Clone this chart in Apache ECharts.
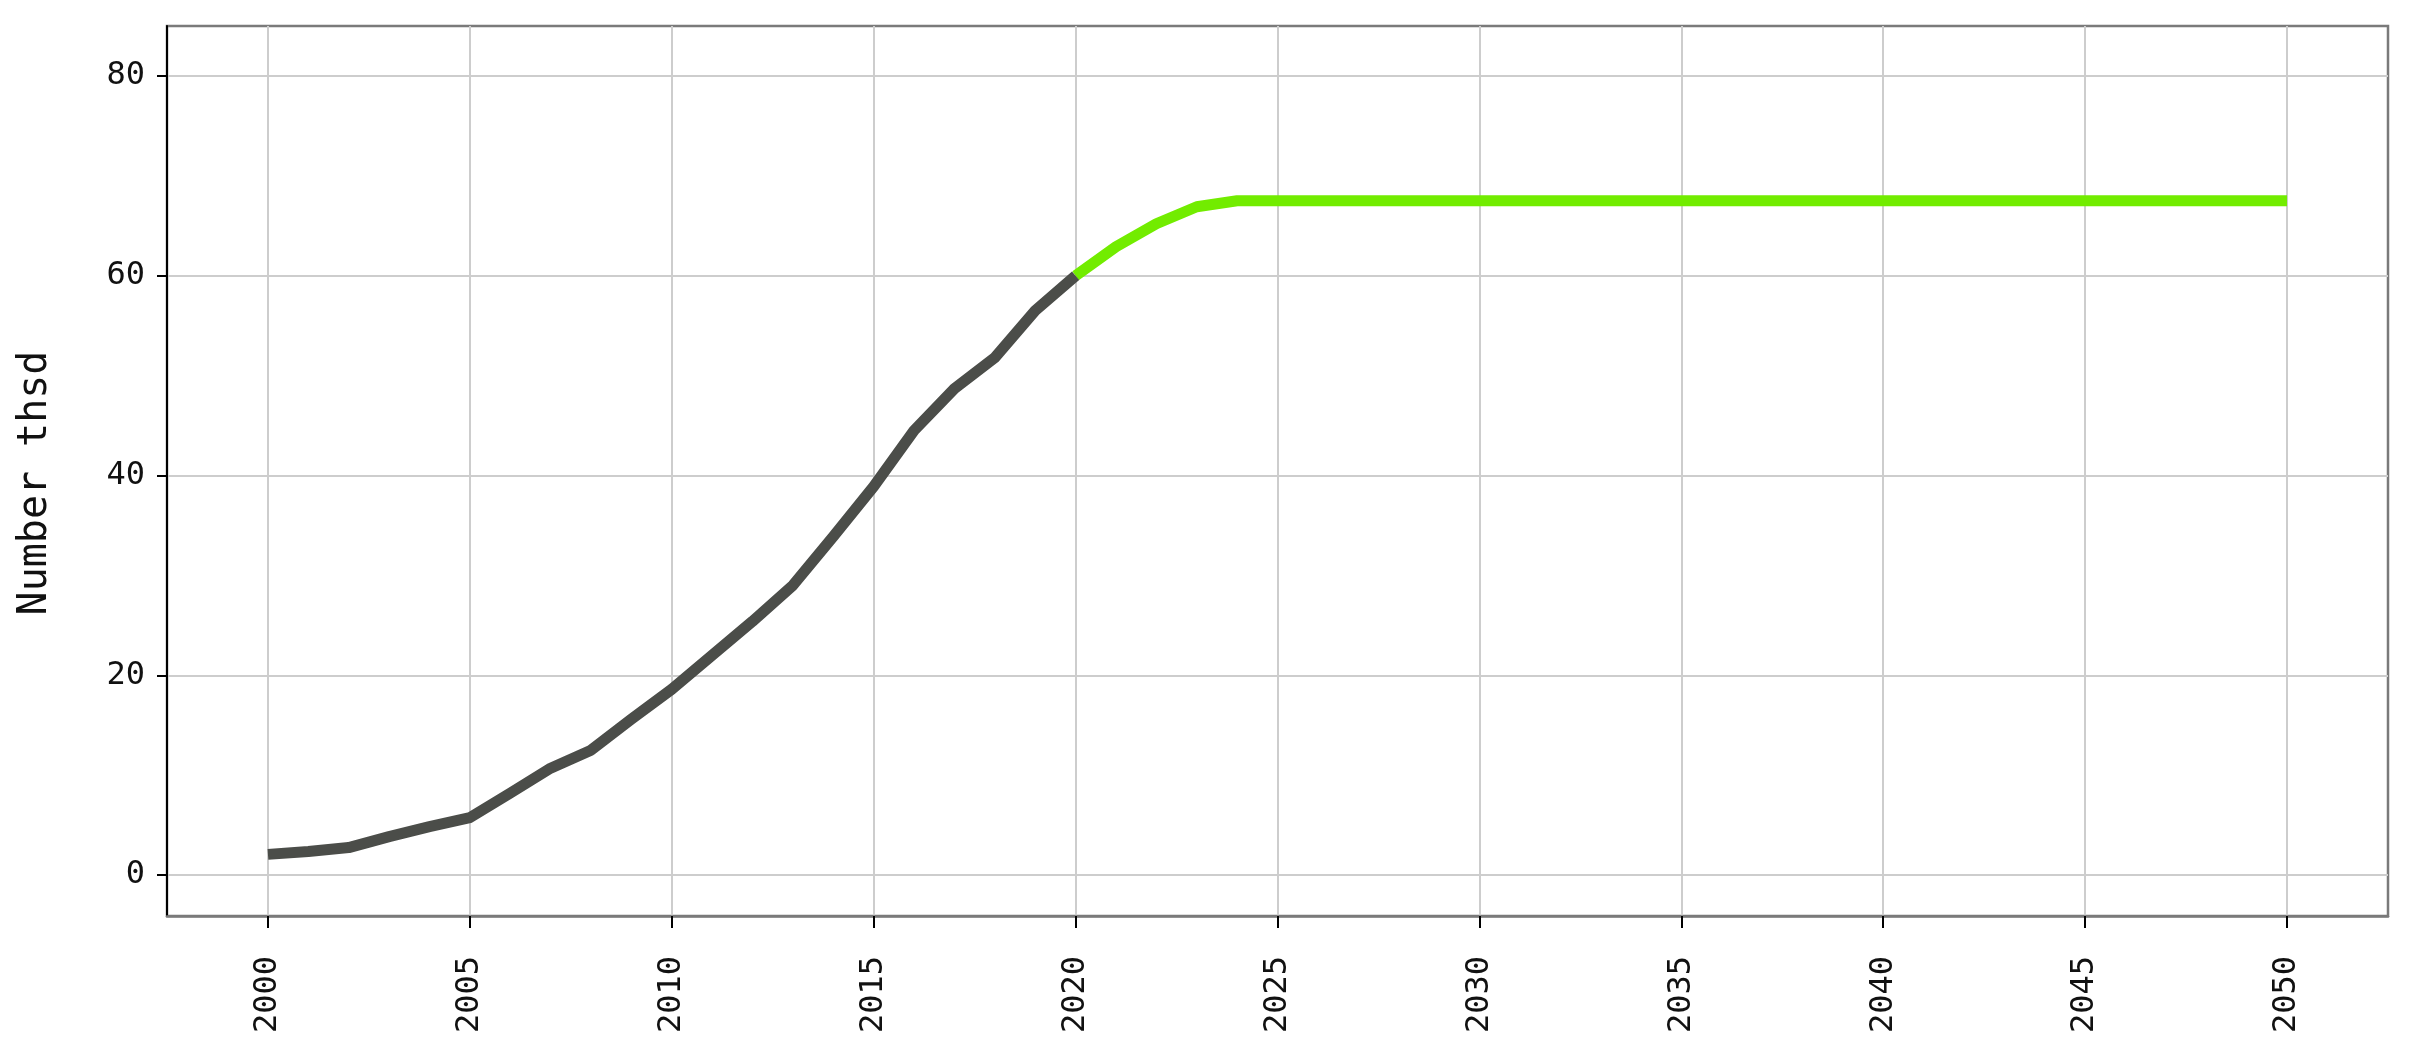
<!DOCTYPE html>
<html>
<head>
<meta charset="utf-8">
<script src="https://cdn.jsdelivr.net/npm/echarts@6/dist/echarts.min.js"></script>
<style>
html,body{margin:0;padding:0;background:#fff;}
#chart{width:2411px;height:1045px;}
</style>
</head>
<body>
<div id="chart"></div>
<script>
const histYears = [2000, 2001, 2002, 2003, 2004, 2005, 2006, 2007, 2008, 2009, 2010,
                   2011, 2012, 2013, 2014, 2015, 2016, 2017, 2018, 2019, 2020];
const histValues = [2.07, 2.35, 2.75, 3.85, 4.85, 5.75, 8.2, 10.7, 12.5, 15.6, 18.6,
                    22.0, 25.4, 29.0, 33.9, 38.9, 44.5, 48.7, 51.8, 56.5, 60.0];
const projYears = [2020, 2021, 2022, 2023, 2024, 2025, 2026, 2027, 2028, 2029, 2030,
                   2031, 2032, 2033, 2034, 2035, 2036, 2037, 2038, 2039, 2040,
                   2041, 2042, 2043, 2044, 2045, 2046, 2047, 2048, 2049, 2050];
const projValues = [60.0, 62.9, 65.2, 66.9, 67.5, 67.5, 67.5, 67.5, 67.5, 67.5, 67.5,
                    67.5, 67.5, 67.5, 67.5, 67.5, 67.5, 67.5, 67.5, 67.5, 67.5,
                    67.5, 67.5, 67.5, 67.5, 67.5, 67.5, 67.5, 67.5, 67.5, 67.5];
const xTickLabels = [2000, 2005, 2010, 2015, 2020, 2025, 2030, 2035, 2040, 2045, 2050];
const yTickLabels = [0, 20, 40, 60, 80];
const yAxisTitle = 'Number thsd';

const FONT = '"DejaVu Sans Mono", monospace';
const chart = echarts.init(document.getElementById('chart'), null, {renderer: 'canvas'});
chart.setOption({
  animation: false,
  backgroundColor: '#ffffff',
  grid: {
    left: 167, right: 23, top: 26, bottom: 129,
    show: true, borderColor: '#7a7a7a', borderWidth: 2.5,
    backgroundColor: '#ffffff',
    containLabel: false, outerBoundsMode: 'none'
  },
  xAxis: {
    type: 'value', min: 1997.5, max: 2052.5,
    axisLine: {show: true, onZero: false, lineStyle: {color: '#7a7a7a', width: 2.5}},
    axisTick: {show: true, customValues: xTickLabels, length: 12, lineStyle: {color: '#000', width: 2}},
    axisLabel: {show: true, customValues: xTickLabels, rotate: 90, margin: 40,
      fontFamily: FONT, fontSize: 32, color: '#111', padding: [10, 0, 0, 0],
      formatter: v => String(v)},
    splitLine: {show: true, lineStyle: {color: '#cdcdcd', width: 2}}
  },
  yAxis: {
    type: 'value', min: -4.1, max: 85,
    name: yAxisTitle, nameLocation: 'middle', nameGap: 111, nameRotate: 90,
    nameTextStyle: {fontFamily: FONT, fontSize: 40, color: '#111', padding: [0, 24, 0, 0]},
    axisLine: {show: true, onZero: false, lineStyle: {color: '#000', width: 2}},
    axisTick: {show: true, customValues: yTickLabels, length: 10, lineStyle: {color: '#000', width: 2}},
    axisLabel: {show: true, customValues: yTickLabels, margin: 22,
      fontFamily: FONT, fontSize: 32, color: '#111',
      formatter: v => String(v)},
    splitLine: {show: true, lineStyle: {color: '#cdcdcd', width: 2}}
  },
  series: [
    {
      type: 'line', name: 'history', showSymbol: false, symbol: 'none',
      data: histYears.map((y, i) => [y, histValues[i]]),
      lineStyle: {color: '#4b4d49', width: 11, cap: 'butt', join: 'round'},
      z: 3
    },
    {
      type: 'line', name: 'projection', showSymbol: false, symbol: 'none',
      data: projYears.map((y, i) => [y, projValues[i]]),
      lineStyle: {color: '#72ec00', width: 11, cap: 'butt', join: 'round'},
      z: 2
    }
  ]
});
</script>
</body>
</html>
